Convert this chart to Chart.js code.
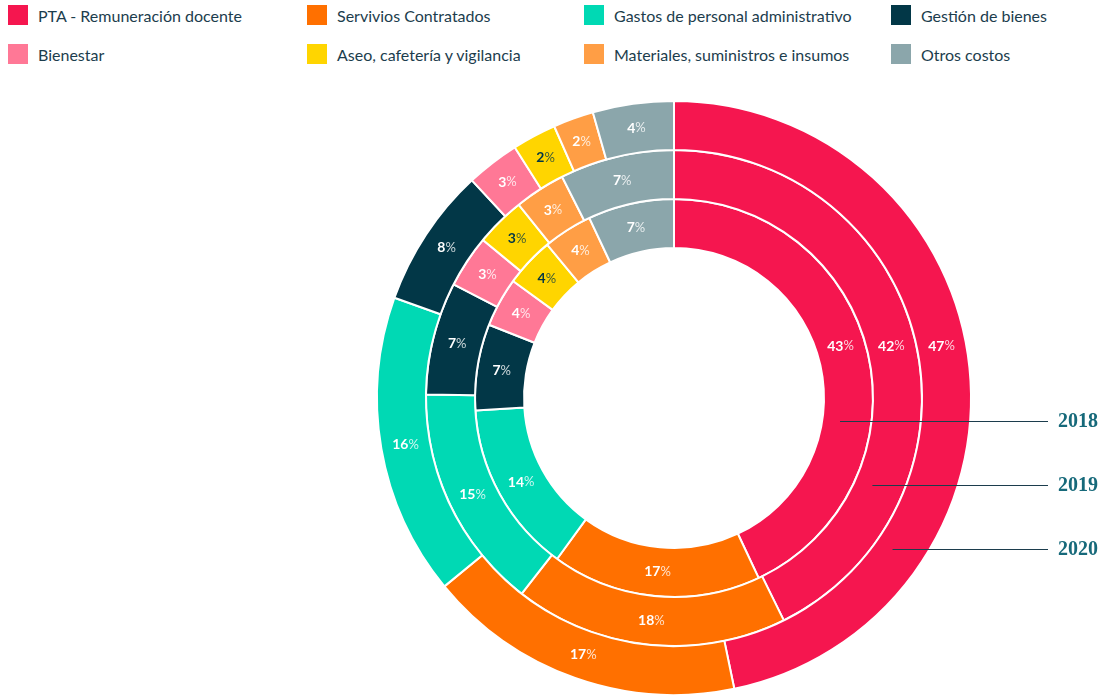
<!DOCTYPE html>
<html>
<head>
<meta charset="utf-8">
<script src="https://cdn.jsdelivr.net/npm/chart.js@4"></script>
<style>
  body { margin: 0; background: #fff; width: 1105px; height: 696px; overflow: hidden; position: relative; font-family: Lato, sans-serif; }
  #chart { position: absolute; left: 0; top: 0; }
  .item { position: absolute; display: flex; align-items: center; height: 20px; font-size: 16px; color: #1c3d4d; white-space: nowrap; }
  .box { width: 20px; height: 20px; margin-right: 10px; }
</style>
</head>
<body>
<div id="legend"></div>
<canvas id="chart" width="1105" height="696"></canvas>
<script>
const categories = [
    'PTA - Remuneración docente',
    'Servivios Contratados',
    'Gastos de personal administrativo',
    'Gestión de bienes',
    'Bienestar',
    'Aseo, cafetería y vigilancia',
    'Materiales, suministros e insumos',
    'Otros costos'
];
const colors = ['#f5164f', '#ff7000', '#00d9b4', '#023747', '#ff7896', '#ffd500', '#ff9e45', '#8ba6ab'];

// outer ring first, like chart.js draws them.
// shares; labels show them rounded
const years = ['2020', '2019', '2018'];
const values2020 = [46.7, 17.3, 16.4, 7.6, 2.9, 2.4, 2.2, 4.4];
const values2019 = [42.4, 17.7, 14.6, 7.3, 3.4, 3.2, 3.3, 7.4];
const values2018 = [43, 17, 14, 7, 4, 4, 4, 7];

// legend grid
const legendCols = [8, 307, 584, 891];
const legendRows = [5, 44];
const legend = document.getElementById('legend');
categories.forEach((name, i) => {
    const item = document.createElement('div');
    item.className = 'item';
    item.style.left = legendCols[i % 4] + 'px';
    item.style.top = legendRows[Math.floor(i / 4)] + 'px';
    item.innerHTML = '<span class="box" style="background:' + colors[i] + '"></span>' + name;
    legend.appendChild(item);
});

const darkLabel = 5; // yellow slices get dark text
const firstLabelRise = 52; // big PTA labels sit in one row above the centre

const sliceLabels = {
    id: 'sliceLabels',
    afterDatasetsDraw(chart) {
        const ctx = chart.ctx;
        ctx.save();
        ctx.textBaseline = 'middle';
        ctx.textAlign = 'left';
        chart.data.datasets.forEach((ds, di) => {
            chart.getDatasetMeta(di).data.forEach((arc, i) => {
                let p = arc.tooltipPosition();
                if (i === 0) {
                    const r = (arc.innerRadius + arc.outerRadius) / 2;
                    p = { x: arc.x + Math.sqrt(r * r - firstLabelRise * firstLabelRise), y: arc.y - firstLabelRise };
                }
                const num = String(Math.round(ds.data[i]));
                ctx.font = 'bold 14px Lato';
                const w1 = ctx.measureText(num).width;
                ctx.font = '13px Lato';
                const w2 = ctx.measureText('%').width;
                const x0 = p.x - (w1 + w2) / 2;
                const dark = i === darkLabel;
                ctx.font = 'bold 14px Lato';
                ctx.fillStyle = dark ? '#023747' : '#ffffff';
                ctx.fillText(num, x0, p.y);
                ctx.font = '13px Lato';
                ctx.fillStyle = dark ? 'rgba(2,55,71,0.8)' : 'rgba(255,255,255,0.8)';
                ctx.fillText('%', x0 + w1, p.y);
            });
        });
        ctx.restore();
    }
};

// year callouts: vertical offset of each leader line below the centre
const yearOffsets = { '2020': 151, '2019': 87, '2018': 23 };
const yearLineEnd = 1048;
const yearTextX = 1058;

const yearCallouts = {
    id: 'yearCallouts',
    afterDraw(chart) {
        const ctx = chart.ctx;
        ctx.save();
        chart.data.datasets.forEach((ds, di) => {
            const arc = chart.getDatasetMeta(di).data[0];
            const r = arc.innerRadius + 0.36 * (arc.outerRadius - arc.innerRadius);
            const dy = yearOffsets[ds.label];
            const y = arc.y + dy;
            const x = arc.x + Math.sqrt(r * r - dy * dy);
            ctx.strokeStyle = '#1c3d4d';
            ctx.lineWidth = 1;
            ctx.beginPath();
            ctx.moveTo(x, y + 0.5);
            ctx.lineTo(yearLineEnd, y + 0.5);
            ctx.stroke();
            ctx.font = 'bold 20px "Liberation Serif"';
            ctx.fillStyle = '#16697a';
            ctx.textBaseline = 'middle';
            ctx.fillText(ds.label, yearTextX, y + 1);
        });
        ctx.restore();
    }
};

new Chart(document.getElementById('chart'), {
    type: 'doughnut',
    data: {
        labels: categories,
        datasets: [
            { label: years[0], data: values2020, backgroundColor: colors },
            { label: years[1], data: values2019, backgroundColor: colors },
            { label: years[2], data: values2018, backgroundColor: colors }
        ]
    },
    options: {
        responsive: false,
        animation: false,
        events: [],
        cutout: '50.5%',
        borderColor: '#ffffff',
        borderWidth: 2,
        layout: { padding: { left: 376, top: 100, right: 133, bottom: 0 } },
        plugins: {
            legend: { display: false },
            tooltip: { enabled: false }
        }
    },
    plugins: [sliceLabels, yearCallouts]
});
</script>
</body>
</html>
